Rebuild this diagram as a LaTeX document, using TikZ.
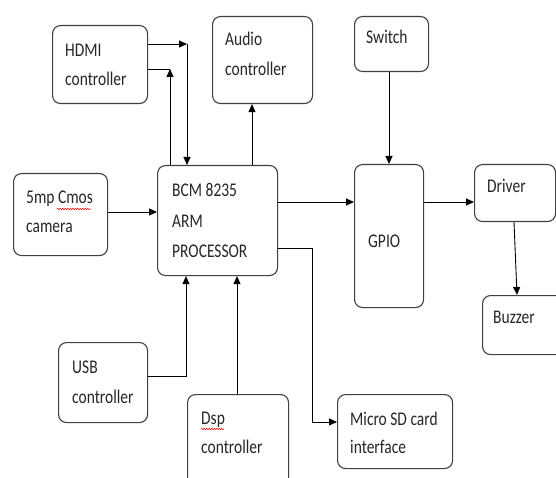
\documentclass[tikz,border=0pt]{standalone}
\usepackage{fontspec}
\setmainfont{Carlito}
\usetikzlibrary{arrows.meta,decorations.pathmorphing}
\newcommand\bxx[5]{\node[box, minimum width={(#4-#2)*1pt}, minimum height={(#5-#3)*1pt}] (#1) at (#2,#3) {};}
\newcommand\tl[3]{\node[lbl] (#1) at (#2) {\scalebox{1}[1.25]{#3}};}
\begin{document}
\begin{tikzpicture}[x=1pt,y=-1pt,
  box/.style={draw=black!75, line width=1.1pt, rounded corners=8pt, inner sep=0pt, anchor=north west},
  lbl/.style={anchor=base west, inner sep=0pt, text=black!85, font=\fontsize{15.5}{18}\selectfont},
  conn/.style={line width=0.9pt, -{Triangle[length=8pt,width=7pt]}},
  ln/.style={line width=0.9pt},
  squig/.style={red, line width=0.5pt, decorate, decoration={snake, amplitude=0.8pt, segment length=2.5pt}}]
\useasboundingbox (0,0) rectangle (556,478);
\clip (0,0) rectangle (556,478);
% boxes
\bxx{hdmi}{52}{25}{147}{103}
\bxx{audio}{212}{16}{312}{103}
\bxx{cam}{13}{173}{107}{255}
\bxx{bcm}{157}{165}{277}{275}
\bxx{switch}{354}{16}{428}{71}
\bxx{gpio}{354}{164}{423}{307}
\bxx{driver}{474}{164}{555}{221}
\bxx{buzzer}{482}{295}{564}{354}
\bxx{usb}{58}{342}{147}{422}
\bxx{dsp}{187}{394}{288}{490}
\bxx{sd}{337}{394}{452}{468}
% texts
\tl{t1}{65,57}{HDMI}
\tl{t2}{65,86}{controller}
\tl{t3}{225,46}{Audio}
\tl{t4}{225,76}{controller}
\tl{t5}{26,204}{5mp Cmos}
\tl{t6}{26,233}{camera}
\tl{t7}{172,197}{BCM 8235}
\tl{t8}{172,228}{ARM}
\tl{t9}{172,257}{PROCESSOR}
\tl{t10}{366,44}{Switch}
\tl{t11}{368,247}{GPIO}
\tl{t12}{487,193}{Driver}
\tl{t13}{493,323}{Buzzer}
\tl{t14}{72,373}{USB}
\tl{t15}{72,403}{controller}
\tl{t16}{201,424}{Dsp}
\tl{t17}{201,453}{controller}
\tl{t18}{350,425}{Micro SD card}
\tl{t19}{350,453}{interface}
% spell-check squiggles
\draw[squig] (57,209) -- (91,209);
\draw[squig] (201,429) -- (224,429);
% helper coordinates
\coordinate (c1) at (187,44);
\coordinate (c2) at (170,69);
\coordinate (c3) at (252,0);
\coordinate (c4) at (0,212);
\coordinate (c5) at (0,202);
\coordinate (c7) at (389,0);
\coordinate (c8) at (514,0);
\coordinate (c9) at (517,0);
\coordinate (c10) at (312,248);
\coordinate (c11) at (312,422);
\coordinate (c12) at (186,376);
\coordinate (c13) at (237,0);
% connectors
\draw[conn] (hdmi.east |- c1) -- (c1);
\draw[conn] (c1) -- (bcm.north -| c1);
\draw[conn] (bcm.north -| c2) -- (c2);
\draw[ln] (c2) -- (hdmi.east |- c2);
\draw[conn] (bcm.north -| c3) -- (audio.south -| c3);
\draw[conn] (cam.east |- c4) -- (bcm.west |- c4);
\draw[conn] (bcm.east |- c5) -- (gpio.west |- c5);
\draw[conn] (gpio.east |- c5) -- (driver.west |- c5);
\draw[conn] (switch.south -| c7) -- (gpio.north -| c7);
\draw[conn] (driver.south -| c8) -- (buzzer.north -| c9);
\draw[conn] (bcm.east |- c10) -- (c10) -- (c11) -- (sd.west |- c11);
\draw[conn] (usb.east |- c12) -- (c12) -- (bcm.south -| c12);
\draw[conn] (dsp.north -| c13) -- (bcm.south -| c13);
\end{tikzpicture}
\end{document}
